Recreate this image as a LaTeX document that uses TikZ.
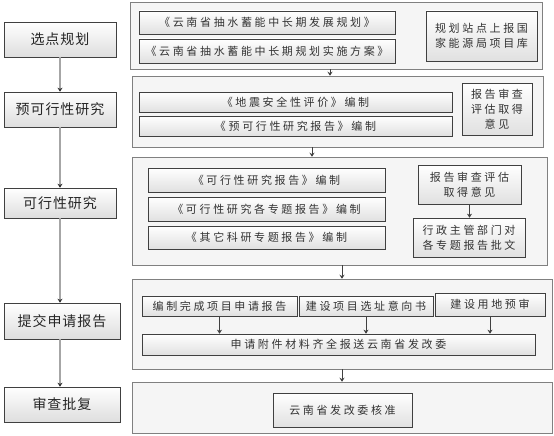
\documentclass[tikz,border=0pt]{standalone}
\usepackage{fontspec}
\setmainfont{Noto Sans CJK SC}
\newfontfamily\cjkwide{Noto Sans CJK SC}[LetterSpace=24]
\newfontfamily\cjkstage{Noto Sans CJK SC}[LetterSpace=7]
\usetikzlibrary{arrows.meta,shadows}

\tikzset{
    stage/.style={draw=black!75, line width=.6pt, top color=white, bottom color=black!13,
        inner sep=0pt, drop shadow={shadow xshift=1.2pt, shadow yshift=-1.2pt, fill=black!75, opacity=1},
        font=\cjkstage\fontsize{14}{16}\selectfont, text=black!85},
    group/.style={draw=black!50, line width=.5pt, fill=black!4,
        drop shadow={shadow xshift=1pt, shadow yshift=-1pt, fill=black!45, opacity=1}},
    item/.style={draw=black!75, line width=.6pt, top color=white, bottom color=black!12,
        inner sep=0pt, align=center,
        drop shadow={shadow xshift=1.2pt, shadow yshift=-1.2pt, fill=black!75, opacity=1},
        font=\cjkwide\fontsize{11}{15}\selectfont, text=black!80},
    flow/.style={draw=black!35, line width=1.5pt, -{Stealth[length=4pt,width=5pt,color=black!80]}},
    link/.style={draw=black!75, line width=1pt, -{Stealth[length=4pt,width=5pt]}},
}

\begin{document}
\begin{tikzpicture}[x=1pt,y=-1pt]
    \useasboundingbox (0,0) rectangle (554,436);

    % stages on the left
    \node[stage, minimum width=112, minimum height=35] (s1) at (60,39.5) {选点规划};
    \node[stage, minimum width=112, minimum height=35] (s2) at (60,109.5) {预可行性研究};
    \node[stage, minimum width=112, minimum height=30] (s3) at (60,203) {可行性研究};
    \node[stage, minimum width=116, minimum height=36] (s4) at (62,321) {提交申请报告};
    \node[stage, minimum width=116, minimum height=35] (s5) at (62,404.5) {审查批复};
    \draw[flow] (s1.south) -- (s1.south |- s2.north);
    \draw[flow] (s2.south) -- (s2.south |- s3.north);
    \draw[flow] (s3.south) -- (s3.south |- s4.north);
    \draw[flow] (s3.south |- s4.south) -- (s3.south |- s5.north);

    % groups on the right
    \node[group, minimum width=412, minimum height=67] (c1) at (336,35.5) {};
    \node[group, minimum width=411, minimum height=71] (c2) at (337.5,111.5) {};
    \node[group, minimum width=415, minimum height=108] (c3) at (339.5,211) {};
    \node[group, minimum width=420, minimum height=90] (c4) at (342,324) {};
    \node[group, minimum width=420, minimum height=51] (c5) at (342,407.5) {};
    \coordinate (k1) at (330,0);
    \coordinate (k2) at (312,0);
    \draw[link] (c1.south -| k1) -- (c2.north -| k1);
    \draw[link] (c2.south -| k2) -- (c3.north -| k2);
    \draw[link] (c3.south -| c4.north) -- (c4.north);
    \draw[link] (c4.south) -- (c5.north);

    % selection planning
    \node[item, minimum width=256, minimum height=23] (a1) at (267,22.5) {《云南省抽水蓄能中长期发展规划》};
    \node[item, minimum width=256, minimum height=24] (a2) at (267,51) {《云南省抽水蓄能中长期规划实施方案》};
    \node[item, minimum width=111, minimum height=50] (a3) at (481.5,36) {规划站点上报国\\家能源局项目库};

    % pre-feasibility
    \node[item, minimum width=313, minimum height=20] (b1) at (295.5,102) {《地震安全性评价》编制};
    \node[item, minimum width=313, minimum height=20] (b2) at (295.5,126) {《预可行性研究报告》编制};
    \node[item, minimum width=70, minimum height=52] (b3) at (497,109) {报告审查\\评估取得\\意见};

    % feasibility
    \node[item, minimum width=237, minimum height=24] (d1) at (266.5,180) {《可行性研究报告》编制};
    \node[item, minimum width=237, minimum height=24] (d2) at (266.5,209) {《可行性研究各专题报告》编制};
    \node[item, minimum width=237, minimum height=23] (d3) at (266.5,237.5) {《其它科研专题报告》编制};
    \node[item, minimum width=103, minimum height=39] (d4) at (469.5,184.5) {报告审查评估\\取得意见};
    \node[item, minimum width=112, minimum height=39] (d5) at (469,237.5) {行政主管部门对\\各专题报告批文};
    \draw[link] (d4.south) -- (d4.south |- d5.north);

    % application
    \node[item, minimum width=155, minimum height=20] (e1) at (219.5,306) {编制完成项目申请报告};
    \node[item, minimum width=134, minimum height=20] (e2) at (366,306) {建设项目选址意向书};
    \node[item, minimum width=110, minimum height=23] (e3) at (490,304.5) {建设用地预审};
    \node[item, minimum width=393, minimum height=21] (e4) at (338.5,344.5) {申请附件材料齐全报送云南省发改委};
    \draw[link] (e1.south) -- (e1.south |- e4.north);
    \draw[link] (e2.south) -- (e2.south |- e4.north);
    \draw[link] (e3.south) -- (e3.south |- e4.north);

    % approval
    \node[item, minimum width=139, minimum height=34] (f1) at (342.5,410) {云南省发改委核准};
\end{tikzpicture}
\end{document}
